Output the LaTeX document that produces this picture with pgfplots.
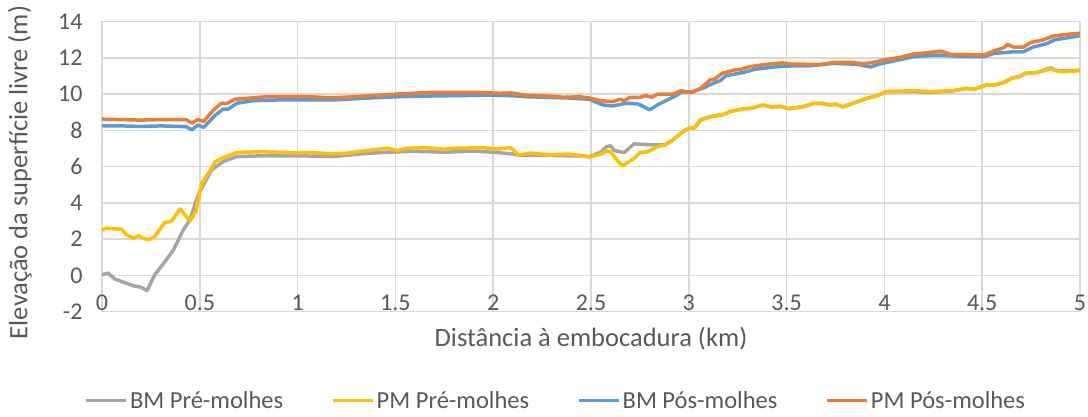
\documentclass[border=0pt]{standalone}
\usepackage{fontspec}
\setmainfont{Carlito}
\usepackage{pgfplots}
\pgfplotsset{compat=1.18}
\definecolor{cgray}{RGB}{165,165,165}
\definecolor{cyellow}{RGB}{255,192,0}
\definecolor{cblue}{RGB}{91,155,213}
\definecolor{corange}{RGB}{237,125,49}
\definecolor{cgrid}{RGB}{217,217,217}
\definecolor{ctext}{RGB}{89,89,89}
\begin{document}
\begin{tikzpicture}
\begin{axis}[
  name=ax,
  scale only axis,
  width=978pt, height=290pt,
  xmin=0, xmax=5, ymin=-2, ymax=14,
  xtick={0,0.5,...,5},
  ytick={-2,0,...,14},
  xticklabels={0,0.5,1,1.5,2,2.5,3,3.5,4,4.5,5},
  grid=major,
  grid style={cgrid, line width=1.5pt},
  axis line style={cgrid, line width=1.5pt},
  major tick length=0pt,
  /pgf/number format/assume math mode=true,
  tick label style={ctext, font=\fontsize{24}{28}\selectfont},
  xticklabel style={anchor=base, yshift=1pt},
  yticklabel style={anchor=east, xshift=-16pt},
  xlabel={Distância à embocadura (km)},
  ylabel={Elevação da superfície livre (m)},
  label style={font=\fontsize{26.5}{30}\selectfont},
  xlabel style={ctext, at={(axis description cs:0.5,0)}, anchor=center, yshift=-27pt},
  ylabel style={ctext, at={(axis description cs:-0.084,0.48)}, anchor=center},
  legend columns=4,
  legend style={at={(axis description cs:0.464,-0.306)}, anchor=center, draw=none, fill=none,
    font=\fontsize{24.5}{28}\selectfont, text=ctext,
    /tikz/every even column/.append style={column sep=46pt}},
  legend image code/.code={\draw[#1, line width=3.5pt] (0pt,0pt) -- (40pt,0pt);},
  every axis plot/.append style={line width=3.5pt, line join=round},
]
\addplot[cgray] coordinates {(0,0.04)(0.03,0.13)(0.066,-0.2)(0.16,-0.57)(0.20,-0.65)(0.23,-0.84)(0.27,0.04)(0.31,0.59)(0.366,1.42)(0.416,2.52)(0.45,3.07)(0.477,3.99)(0.50,4.63)(0.56,5.82)(0.62,6.28)(0.69,6.56)(0.82,6.6)(1.01,6.6)(1.18,6.56)(1.35,6.73)(1.46,6.8)(1.6,6.85)(1.75,6.8)(1.9,6.86)(2.0,6.8)(2.10,6.7)(2.14,6.62)(2.29,6.62)(2.40,6.6)(2.46,6.6)(2.49,6.54)(2.55,6.8)(2.58,7.11)(2.60,7.15)(2.62,6.89)(2.67,6.78)(2.72,7.26)(2.78,7.22)(2.84,7.2)(2.88,7.22)(2.92,7.48)(2.96,7.85)(3.0,8.12)(3.03,8.15)(3.06,8.58)(3.11,8.76)(3.18,8.89)(3.21,9.04)(3.28,9.2)(3.31,9.2)(3.38,9.4)(3.42,9.3)(3.47,9.33)(3.51,9.2)(3.58,9.3)(3.64,9.5)(3.68,9.5)(3.72,9.4)(3.75,9.45)(3.79,9.3)(3.84,9.5)(3.91,9.77)(3.96,9.9)(4.01,10.14)(4.08,10.14)(4.15,10.15)(4.23,10.1)(4.35,10.18)(4.42,10.32)(4.46,10.27)(4.52,10.5)(4.57,10.52)(4.62,10.69)(4.65,10.88)(4.69,10.97)(4.72,11.15)(4.78,11.2)(4.85,11.45)(4.88,11.3)(4.91,11.28)(5.0,11.32)};
\addlegendentry{BM Pré-molhes}
\addplot[cyellow] coordinates {(0,2.48)(0.02,2.61)(0.10,2.55)(0.126,2.24)(0.16,2.06)(0.19,2.19)(0.21,2.04)(0.24,1.97)(0.27,2.15)(0.32,2.92)(0.356,3.0)(0.40,3.67)(0.45,3.01)(0.48,3.53)(0.51,5.09)(0.545,5.64)(0.58,6.28)(0.62,6.5)(0.69,6.78)(0.82,6.83)(0.96,6.76)(1.06,6.78)(1.18,6.71)(1.25,6.74)(1.35,6.89)(1.46,7.02)(1.51,6.89)(1.56,7.02)(1.65,7.05)(1.75,6.97)(1.82,7.02)(1.95,7.05)(2.02,6.97)(2.09,7.05)(2.13,6.65)(2.19,6.75)(2.29,6.65)(2.38,6.7)(2.46,6.6)(2.49,6.54)(2.55,6.69)(2.58,6.87)(2.60,6.82)(2.62,6.54)(2.66,6.04)(2.72,6.45)(2.75,6.78)(2.79,6.82)(2.84,7.11)(2.88,7.2)(2.92,7.48)(2.96,7.85)(3.0,8.12)(3.03,8.15)(3.06,8.58)(3.11,8.76)(3.18,8.89)(3.21,9.04)(3.28,9.2)(3.31,9.22)(3.38,9.4)(3.42,9.3)(3.47,9.33)(3.51,9.2)(3.58,9.3)(3.64,9.5)(3.68,9.5)(3.72,9.4)(3.75,9.45)(3.79,9.3)(3.84,9.5)(3.91,9.77)(3.96,9.9)(4.01,10.14)(4.08,10.17)(4.15,10.2)(4.23,10.14)(4.35,10.2)(4.42,10.32)(4.46,10.27)(4.52,10.5)(4.57,10.52)(4.62,10.69)(4.65,10.88)(4.69,10.97)(4.72,11.15)(4.78,11.2)(4.85,11.39)(4.88,11.3)(4.91,11.24)(5.0,11.3)};
\addlegendentry{PM Pré-molhes}
\addplot[cblue] coordinates {(0,8.26)(0.1,8.25)(0.2,8.22)(0.3,8.25)(0.43,8.21)(0.46,8.03)(0.49,8.3)(0.52,8.17)(0.58,8.85)(0.62,9.18)(0.645,9.18)(0.69,9.5)(0.77,9.64)(0.89,9.68)(1.06,9.68)(1.18,9.68)(1.35,9.78)(1.51,9.86)(1.68,9.9)(2.0,9.95)(2.12,9.9)(2.17,9.86)(2.38,9.79)(2.49,9.72)(2.56,9.41)(2.61,9.35)(2.68,9.5)(2.74,9.46)(2.77,9.31)(2.80,9.13)(2.84,9.41)(2.89,9.68)(2.94,9.95)(2.96,10.13)(3.02,10.13)(3.08,10.37)(3.13,10.63)(3.16,10.74)(3.19,11.02)(3.28,11.2)(3.34,11.38)(3.48,11.55)(3.62,11.57)(3.74,11.7)(3.86,11.65)(3.93,11.5)(3.97,11.65)(4.05,11.84)(4.15,12.07)(4.28,12.16)(4.4,12.07)(4.51,12.07)(4.56,12.25)(4.66,12.34)(4.71,12.34)(4.76,12.6)(4.83,12.79)(4.87,13.0)(4.93,13.1)(5.0,13.23)};
\addlegendentry{BM Pós-molhes}
\addplot[corange] coordinates {(0,8.62)(0.1,8.6)(0.2,8.57)(0.3,8.6)(0.43,8.6)(0.46,8.4)(0.49,8.6)(0.52,8.5)(0.57,9.13)(0.61,9.5)(0.64,9.5)(0.68,9.72)(0.76,9.79)(0.84,9.86)(1.06,9.86)(1.18,9.8)(1.35,9.9)(1.51,10.01)(1.68,10.1)(1.92,10.1)(2.03,10.05)(2.09,10.07)(2.17,9.94)(2.29,9.9)(2.36,9.83)(2.44,9.86)(2.49,9.79)(2.55,9.64)(2.61,9.59)(2.65,9.72)(2.67,9.64)(2.70,9.83)(2.75,9.83)(2.78,9.92)(2.81,9.83)(2.84,10.0)(2.92,10.0)(2.96,10.19)(3.01,10.08)(3.06,10.32)(3.11,10.8)(3.13,10.82)(3.17,11.15)(3.23,11.33)(3.27,11.38)(3.31,11.52)(3.40,11.65)(3.48,11.73)(3.52,11.66)(3.62,11.65)(3.68,11.65)(3.74,11.75)(3.84,11.75)(3.89,11.68)(3.94,11.75)(4.01,11.92)(4.08,12.03)(4.15,12.22)(4.23,12.3)(4.29,12.38)(4.34,12.2)(4.42,12.2)(4.51,12.16)(4.56,12.39)(4.61,12.56)(4.63,12.75)(4.66,12.6)(4.71,12.6)(4.75,12.86)(4.81,12.99)(4.86,13.2)(4.93,13.3)(5.0,13.36)};
\addlegendentry{PM Pós-molhes}
\end{axis}
\pgfresetboundingbox
\path[use as bounding box] (ax.south west) ++(-102pt,-105.3pt) rectangle ++(1088pt,417pt);
\end{tikzpicture}
\end{document}
